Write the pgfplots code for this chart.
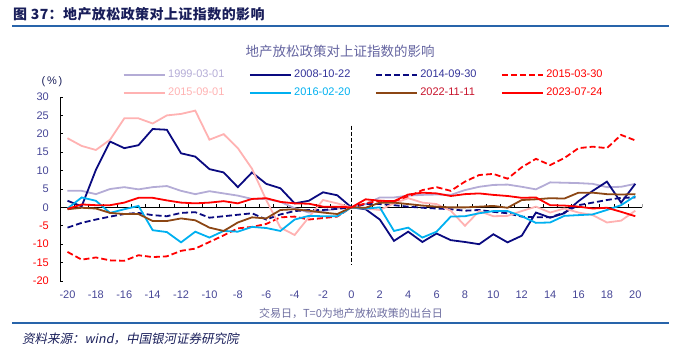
\documentclass[border=0pt]{standalone}
\usepackage{pgfplots}
\usepackage{pgfplotstable}
\pgfplotsset{compat=1.18}
\usepackage{fontspec}
\setmainfont{Liberation Sans}
\newfontfamily\cjk{Noto Sans CJK SC}
\newfontfamily\cjkt{Noto Sans CJK SC}[LetterSpace=3]
\newfontfamily\cjkit{Noto Sans CJK SC}[FakeSlant=0.2]

\definecolor{lav}{RGB}{180,172,214}
\definecolor{navyc}{RGB}{10,10,128}
\definecolor{pinkc}{RGB}{255,178,178}
\definecolor{cyanc}{RGB}{0,176,240}
\definecolor{brownc}{RGB}{140,70,20}
\definecolor{redc}{RGB}{255,0,0}
\definecolor{legnavy}{RGB}{51,51,153}
\definecolor{legbrown}{RGB}{200,20,45}
\definecolor{ticknavy}{RGB}{70,70,150}
\definecolor{titlec}{RGB}{100,100,160}
\definecolor{xlabc}{RGB}{110,110,160}
\definecolor{bluel}{RGB}{40,100,170}
\definecolor{headc}{RGB}{25,30,90}

\pgfplotstableread{
x a b c d e f g h
-20 4.5 1.8 -5.5 -12.1 18.8 -0.3 -0.5 -0.4
-19 4.5 0.3 -4.2 -14.2 16.7 2.7 -0.1 0.8
-18 3.6 10.2 -3.3 -13.6 15.6 1.8 -0.3 0.6
-17 5.0 17.9 -2.5 -14.4 18.4 -1.5 -1.5 0.6
-16 5.5 16.1 -1.8 -14.5 24.2 -0.5 -1.8 1.3
-15 4.9 16.9 -1.5 -13.0 24.2 0.4 -1.8 2.6
-14 5.5 21.3 -2.1 -13.5 22.8 -6.2 -3.7 2.6
-13 5.8 21.1 -2.4 -13.3 25.0 -6.7 -3.7 1.9
-12 4.5 14.7 -1.5 -11.8 25.4 -9.5 -3.0 1.3
-11 3.6 13.8 -1.3 -11.2 26.3 -6.6 -3.5 1.1
-10 4.4 10.4 -2.8 -9.4 18.4 -8.2 -5.5 1.3
-9 3.8 9.5 -2.4 -7.6 19.9 -6.4 -6.4 1.7
-8 3.2 5.5 -2.0 -5.7 16.1 -6.6 -4.1 1.1
-7 2.3 9.5 -1.6 -5.3 10.5 -5.3 -2.7 2.3
-6 2.3 6.4 -3.3 -4.5 2.0 -5.6 -3.0 2.5
-5 1.5 5.2 -1.9 -2.7 -5.5 -6.4 -0.7 1.5
-4 -0.2 1.1 -1.0 -2.5 -7.5 -3.3 -0.5 1.1
-3 -1.4 1.8 -0.7 -3.3 -2.7 -2.3 -0.9 1.0
-2 -1.0 4.1 -0.7 -2.9 2.0 -2.4 -1.4 0.2
-1 -0.3 3.3 -0.4 -2.5 1.1 -2.4 -1.8 0.2
0 0 0 0 0 0 0 0 0
1 0.9 -0.5 0.9 1.1 -0.3 -0.3 -0.1 2.2
2 2.7 -3.3 0.9 1.8 -0.7 0.0 1.3 1.8
3 2.7 -9.1 0.6 1.5 1.1 -6.4 1.3 1.7
4 3.2 -6.6 0.2 2.9 2.5 -5.5 0.9 3.5
5 3.4 -9.4 -0.1 4.7 1.3 -8.2 0.5 4.0
6 3.5 -7.1 -0.3 5.5 0.9 -6.6 0.2 3.8
7 3.4 -8.9 -0.5 4.5 -0.9 -2.5 0.0 3.1
8 4.7 -9.4 -0.9 7.0 -5.0 -2.4 0.0 3.6
9 5.6 -10.0 -0.7 8.8 -1.0 -1.6 0.2 3.8
10 6.1 -7.3 -1.2 9.1 -2.4 -1.0 0.4 3.4
11 6.2 -9.5 -1.6 7.8 -2.3 -1.0 -0.1 3.1
12 5.6 -7.7 -2.5 10.9 -1.0 -2.4 2.0 2.6
13 4.9 -1.4 -2.7 13.2 0.2 -4.2 2.2 2.7
14 6.8 -2.8 -2.7 11.5 -1.4 -4.1 2.5 0.6
15 6.7 -1.6 -1.4 13.4 -0.3 -2.3 2.4 0.5
16 6.6 1.7 0.6 16.1 -1.4 -2.1 4.0 0.2
17 6.4 4.5 1.3 16.5 -2.1 -1.9 4.0 -0.3
18 5.5 7.0 2.0 16.1 -4.1 -0.7 3.6 -0.1
19 5.6 1.3 2.6 19.7 -3.6 0.6 3.5 -1.2
20 6.4 6.4 2.7 18.2 -0.9 3.1 3.6 -2.4
}\datatable

\begin{document}
\begin{tikzpicture}
\path[use as bounding box] (0pt,0pt) rectangle (679pt,355pt);
% header
\node[anchor=west, inner sep=0pt, text=headc] at (13pt,341pt) {\cjkt\bfseries\fontsize{14}{16}\selectfont 图 37：地产放松政策对上证指数的影响};
\draw[bluel, line width=1.5pt] (12pt,329pt) -- (669pt,329pt);
\draw[bluel, line width=1.5pt] (12pt,32pt) -- (669pt,32pt);
\node[anchor=west, inner sep=0pt, text=headc] at (22pt,16pt) {\cjkit\fontsize{12.5}{14}\selectfont 资料来源：wind，中国银河证券研究院};
% chart title
\node[text=titlec, inner sep=0pt] at (340pt,304pt) {\cjk\fontsize{13.5}{15}\selectfont 地产放松政策对上证指数的影响};
% x label
\node[text=xlabc, inner sep=0pt] at (351pt,42pt) {\cjk\fontsize{11}{13}\selectfont 交易日，T=0为地产放松政策的出台日};
% unit
\node[text=headc, inner sep=0pt] at (52pt,273pt) {\fontsize{11}{13}\selectfont (\,\%\,)};
\begin{axis}[
  at={(60.4pt,74pt)}, anchor=south west,
  width=582pt, height=184pt, scale only axis,
  xmin=-20.5, xmax=20.5, ymin=-20, ymax=30,
  axis y line*=left, axis x line*=bottom,
  x axis line style={draw=none},
  y axis line style={black, line width=1.2pt},
  tick align=inside,
  major tick length=3pt,
  xtick={-20,-18,...,20},
  xticklabels={-20,-18,-16,-14,-12,-10,-8,-6,-4,-2,0,2,4,6,8,10,12,14,16,18,20},
  x tick style={draw=none},
  xticklabel style={text=ticknavy, font=\fontsize{11}{13}\selectfont, yshift=-6pt},
  ytick={-20,-15,...,30},
  yticklabels={{\color{redc}-20},{\color{redc}-15},{\color{redc}-10},{\color{redc}-5},0,5,10,15,20,25,30},
  y tick style={black, line width=0.8pt},
  yticklabel style={text=ticknavy, font=\fontsize{11}{13}\selectfont, xshift=-8pt},
  legend columns=4,
  legend cell align=left,
  legend image code/.code={\draw[#1] (0pt,0pt) -- (41pt,0pt);},
  legend style={at={(0.5216,1.0707)}, anchor=center, draw=none, fill=none,
    font=\fontsize{11}{13}\selectfont,
    nodes={inner xsep=2.5pt, inner ysep=0pt, text height=8pt, text depth=2pt},
    row sep=8pt,
    /tikz/every even column/.append style={column sep=22pt}},
  every axis plot/.append style={line width=1.8pt},
]
\draw[black, line width=1.2pt] (axis cs:-20.5,0) -- (axis cs:20.5,0);
\pgfplotsinvokeforeach{-19.5,-18.5,...,20.5}{\draw[black, line width=0.8pt] (axis cs:#1,0) -- ++(0pt,3pt);}
\draw[black, line width=1.2pt, dash pattern=on 4pt off 2pt] (axis cs:0,22.2) -- (axis cs:0,-15.7);
\addplot[lav] table[x=x,y=a]{\datatable};
\addlegendentry{\textcolor{lav}{1999-03-01}}
\addplot[navyc] table[x=x,y=b]{\datatable};
\addlegendentry{\textcolor{legnavy}{2008-10-22}}
\addplot[navyc, dash pattern=on 6pt off 3pt] table[x=x,y=c]{\datatable};
\addlegendentry{\textcolor{legnavy}{2014-09-30}}
\addplot[redc, dash pattern=on 6pt off 3pt] table[x=x,y=d]{\datatable};
\addlegendentry{\textcolor{redc}{2015-03-30}}
\addplot[pinkc] table[x=x,y=e]{\datatable};
\addlegendentry{\textcolor{pinkc}{2015-09-01}}
\addplot[cyanc] table[x=x,y=f]{\datatable};
\addlegendentry{\textcolor{cyanc}{2016-02-20}}
\addplot[brownc] table[x=x,y=g]{\datatable};
\addlegendentry{\textcolor{legbrown}{2022-11-11}}
\addplot[redc] table[x=x,y=h]{\datatable};
\addlegendentry{\textcolor{redc}{2023-07-24}}
\end{axis}
\end{tikzpicture}
\end{document}
